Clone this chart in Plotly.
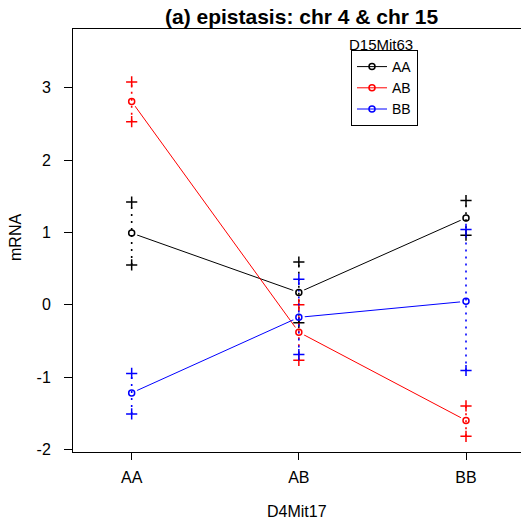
import plotly.graph_objects as go

# D4Mit17 genotype along the x axis
categories = ["AA", "AB", "BB"]
# D15Mit63 genotype groups (one line each)
groups = ["AA", "AB", "BB"]
colors = ["black", "red", "blue"]

# group means of mRNA and the +/- 1 SE limits
mean_AA = [0.99, 0.17, 1.20]
lo_AA = [0.55, -0.25, 0.96]
hi_AA = [1.42, 0.59, 1.44]

mean_AB = [2.81, -0.38, -1.60]
lo_AB = [2.53, -0.77, -1.82]
hi_AB = [3.08, 0.00, -1.40]

mean_BB = [-1.22, -0.175, 0.046]
lo_BB = [-1.51, -0.69, -0.91]
hi_BB = [-0.95, 0.35, 1.04]

y_ticks = [-2, -1, 0, 1, 2, 3]

means = [mean_AA, mean_AB, mean_BB]
lows = [lo_AA, lo_AB, lo_BB]
highs = [hi_AA, hi_AB, hi_BB]

FONT = "Liberation Sans, Arial, sans-serif"
W, H = 521, 522
ML, MR, MT, MB = 73, 0, 29, 70
PW, PH = W - ML - MR, H - MT - MB


def px_x(px):
    return (px - ML) / PW


def px_y(py):
    return (H - MB - py) / PH


fig = go.Figure()

# connecting lines between group means
for g, c, m in zip(groups, colors, means):
    fig.add_trace(go.Scatter(x=categories, y=m, mode="lines",
                             line=dict(color=c, width=1),
                             showlegend=False, hoverinfo="skip"))

# white halo so lines stop short of the points
for g, m in zip(groups, means):
    fig.add_trace(go.Scatter(x=categories, y=m, mode="markers",
                             marker=dict(symbol="circle", size=12, color="white"),
                             showlegend=False, hoverinfo="skip"))

# dotted +/- SE bars with + ends
for g, c, lo, hi in zip(groups, colors, lows, highs):
    xs, ys = [], []
    for cat, a, b in zip(categories, lo, hi):
        xs += [cat, cat, None]
        ys += [a, b, None]
    fig.add_trace(go.Scatter(x=xs, y=ys, mode="lines+markers",
                             line=dict(color=c, width=1.6, dash="2px,5px"),
                             marker=dict(symbol="cross-thin", size=8, color=c,
                                         line=dict(color=c, width=1.5)),
                             showlegend=False, hoverinfo="skip"))

# mean points
for g, c, m in zip(groups, colors, means):
    fig.add_trace(go.Scatter(x=categories, y=m, mode="markers",
                             marker=dict(symbol="circle-open", size=6, color=c,
                                         line=dict(color=c, width=1.5)),
                             showlegend=False, name=g))

# legend entries
for g, c in zip(groups, colors):
    fig.add_trace(go.Scatter(x=[None], y=[None], mode="lines+markers", name=g,
                             line=dict(color=c, width=1),
                             marker=dict(symbol="circle-open", size=6, color=c,
                                         line=dict(color=c, width=1.5))))

fig.update_layout(
    width=W, height=H,
    margin=dict(l=ML, r=MR, t=MT, b=MB, pad=0),
    paper_bgcolor="white", plot_bgcolor="white",
    font=dict(family=FONT, size=16, color="black"),
    showlegend=True,
    legend=dict(x=px_x(351), y=px_y(50), xanchor="left", yanchor="top",
                bgcolor="white", bordercolor="black", borderwidth=1,
                font=dict(size=14), tracegroupgap=0, itemwidth=30),
    xaxis=dict(type="category", categoryorder="array", categoryarray=categories,
               range=[-0.351, 2.329], showgrid=False, zeroline=False,
               showline=True, linecolor="black", linewidth=1, mirror=True,
               ticks="outside", ticklen=7, tickcolor="black",
               tickfont=dict(size=16), ticklabelstandoff=4),
    yaxis=dict(range=[-2.037, 3.812], tickvals=y_ticks,
               ticktext=[str(v) for v in y_ticks],
               showgrid=False, zeroline=False,
               showline=True, linecolor="black", linewidth=1,
               ticks="outside", ticklen=8, tickcolor="black",
               tickfont=dict(size=16), ticklabelstandoff=10),
    annotations=[
        dict(text="<b>(a) epistasis: chr 4 & chr 15</b>", xref="paper", yref="paper",
             x=px_x(301), y=px_y(17), xanchor="center", yanchor="middle",
             showarrow=False, font=dict(size=21)),
        dict(text="mRNA", xref="paper", yref="paper", x=px_x(15), y=px_y(237),
             xanchor="center", yanchor="middle", textangle=-90,
             showarrow=False, font=dict(size=16)),
        dict(text="D4Mit17", xref="paper", yref="paper", x=px_x(297), y=px_y(511),
             xanchor="center", yanchor="middle", showarrow=False,
             font=dict(size=16)),
        dict(text="D15Mit63", xref="paper", yref="paper", x=px_x(381), y=px_y(44),
             xanchor="center", yanchor="middle", showarrow=False,
             font=dict(size=15)),
    ],
)

fig.write_html("out.html")
